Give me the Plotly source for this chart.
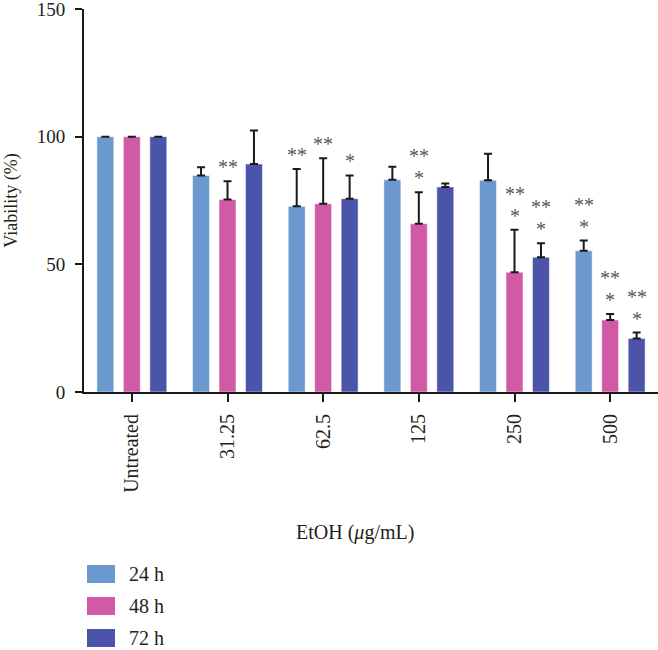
import plotly.graph_objects as go

categories = ["Untreated", "31.25", "62.5", "125", "250", "500"]
series_names = ["24 h", "48 h", "72 h"]
colors = ["#6a98cf", "#d05aa6", "#4c54aa"]

v24 = [100, 84.8, 72.7, 83.1, 82.9, 55.3]
v48 = [100, 75.4, 73.7, 65.9, 46.9, 28.2]
v72 = [100, 89.3, 75.7, 80.3, 52.8, 21.0]

e24 = [0, 3.2, 14.6, 5.1, 10.4, 4.0]
e48 = [0, 7.1, 17.8, 12.3, 16.6, 2.3]
e72 = [0, 13.1, 9.1, 1.4, 5.5, 2.3]

# significance marks: (upper line, lower line)
s24 = [None, None, ("**",), None, None, ("**", "*")]
s48 = [None, ("**",), ("**",), ("**", "*"), ("**", "*"), ("**", "*")]
s72 = [None, None, ("*",), None, ("**", "*"), ("**", "*")]

values = [v24, v48, v72]
errors = [e24, e48, e72]
sigs = [s24, s48, s72]

FONT = "Liberation Serif"
TXT = "#231f20"
W, H = 658, 650
ML, MR, MT, MB = 84, 0, 9, 258
BARGAP = 0.17
BARGROUPGAP = 0.36

fig = go.Figure()
for name, col, vals, errs in zip(series_names, colors, values, errors):
    fig.add_trace(go.Bar(
        x=categories, y=vals, name=name,
        marker=dict(color=col, line=dict(color="rgba(255,255,255,0.5)", width=1)),
        error_y=dict(type="data", symmetric=False, array=errs,
                     arrayminus=[0] * len(errs), color="#1a1a1a",
                     thickness=2, width=4),
        showlegend=False,
    ))

# significance stars above each bar
slot = (1 - BARGAP) / 3
annotations = []
STAR_FONT = dict(family=FONT, size=20, color="#595959")
for j, (vals, errs, sg) in enumerate(zip(values, errors, sigs)):
    for i, marks in enumerate(sg):
        if not marks:
            continue
        lines = list(reversed(marks))  # bottom line first
        for k, txt in enumerate(lines):
            annotations.append(dict(
                x=i + (j - 1) * slot, y=vals[i] + errs[i], xref="x", yref="y",
                text=txt, showarrow=False, yanchor="bottom",
                yshift=1 + 22 * k, font=STAR_FONT,
            ))

pw = W - ML - MR
ph = H - MT - MB
def px2paper_x(px):
    return (px - ML) / pw
def px2paper_y(py):
    return (H - MB - py) / ph

# x-axis title
annotations.append(dict(
    x=px2paper_x(355), y=px2paper_y(532), xref="paper", yref="paper",
    text="EtOH (<i>μ</i>g/mL)", showarrow=False, yanchor="middle",
    font=dict(family=FONT, size=20, color=TXT),
))

# legend
shapes = []
for k, (name, col) in enumerate(zip(series_names, colors)):
    cy = 574 + 32 * k
    shapes.append(dict(
        type="rect", xref="paper", yref="paper",
        x0=px2paper_x(87), x1=px2paper_x(115),
        y0=px2paper_y(cy - 9), y1=px2paper_y(cy + 9),
        fillcolor=col, line=dict(width=0),
    ))
    annotations.append(dict(
        x=px2paper_x(127), y=px2paper_y(cy), xref="paper", yref="paper",
        text=name, showarrow=False, xanchor="left", yanchor="middle",
        font=dict(family=FONT, size=20, color=TXT),
    ))

fig.update_layout(
    width=W, height=H,
    margin=dict(l=ML, r=MR, t=MT, b=MB, pad=0),
    paper_bgcolor="white", plot_bgcolor="white",
    barmode="group", bargap=BARGAP, bargroupgap=BARGROUPGAP,
    font=dict(family=FONT, size=18, color=TXT),
    annotations=annotations, shapes=shapes,
    xaxis=dict(
        type="category", range=[-0.5, 5.5],
        showline=True, linecolor="#1a1a1a", linewidth=2,
        ticks="outside", ticklen=8, tickwidth=2, tickcolor="#1a1a1a",
        tickangle=-90, ticklabelstandoff=4,
        tickfont=dict(family=FONT, size=20, color=TXT),
        showgrid=False, zeroline=False,
    ),
    yaxis=dict(
        range=[0, 150], tickvals=[0, 50, 100, 150],
        showline=True, linecolor="#1a1a1a", linewidth=2,
        ticks="outside", ticklen=7, tickwidth=2, tickcolor="#1a1a1a",
        ticklabelstandoff=6, ticklabeloverflow="allow",
        tickfont=dict(family=FONT, size=19, color=TXT),
        title=dict(text="Viability (%)", standoff=14,
                   font=dict(family=FONT, size=18, color=TXT)),
        showgrid=False, zeroline=False,
    ),
)

fig.write_html("out.html", config={"displayModeBar": False},
               post_script="document.body.style.margin='0px';")
